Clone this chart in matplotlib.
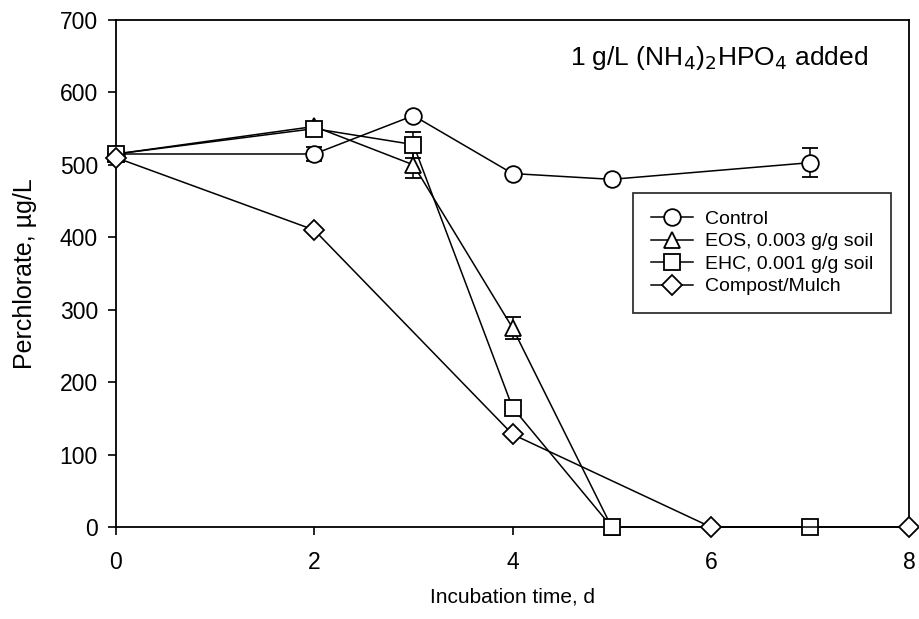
import numpy as np
import matplotlib
matplotlib.use("Agg")
import matplotlib.pyplot as plt
from matplotlib.lines import Line2D

plt.rcParams['font.family'] = ['Liberation Sans', 'DejaVu Sans']

# data
ctrl_t = [0, 2, 3, 4, 5, 7]
ctrl_y = [515, 515, 568, 488, 480, 503]
ctrl_e = [0, 10, 0, 0, 0, 20]

eos_t = [0, 2, 3, 4, 5]
eos_y = [515, 553, 500, 275, 0]
eos_e = [0, 5, 18, 15, 0]

ehc_t = [0, 2, 3, 4, 5, 7]
ehc_y = [515, 550, 528, 165, 0, 0]
ehc_e = [0, 5, 18, 0, 0, 0]

comp_t = [0, 2, 4, 6, 8]
comp_y = [510, 410, 128, 0, 0]

names = ['Control', 'EOS, 0.003 g/g soil', 'EHC, 0.001 g/g soil', 'Compost/Mulch']
marks = ['o', '^', 's', 'D']
sizes = [12, 12, 11.5, 10]

fig = plt.figure(figsize=(9.19, 6.19), dpi=100)
ax = fig.add_axes([0.1262, 0.1486, 0.8630, 0.8191])

kw = dict(color='black', mfc='white', mec='black', lw=1.1, mew=1.3,
          capsize=6, elinewidth=1.1, capthick=1.3, clip_on=False)
ax.errorbar(ctrl_t, ctrl_y, yerr=ctrl_e, marker=marks[0], ms=sizes[0], zorder=3, **kw)
ax.errorbar(eos_t, eos_y, yerr=eos_e, marker=marks[1], ms=sizes[1], zorder=4, **kw)
ax.errorbar(ehc_t, ehc_y, yerr=ehc_e, marker=marks[2], ms=sizes[2], zorder=5, **kw)
ax.plot(comp_t, comp_y, marker=marks[3], ms=sizes[3], color='black', mfc='white',
        mec='black', lw=1.1, mew=1.3, zorder=6, clip_on=False)

ax.set_xlim(0, 8)
ax.set_ylim(0, 700)
ax.set_xticks([0, 2, 4, 6, 8])
ax.set_yticks(np.arange(0, 701, 100))
ax.tick_params(direction='out', length=6, width=1.2, labelsize=16.5, pad=7)
ax.tick_params(axis='x', pad=11)
for s in ax.spines.values():
    s.set_linewidth(1.3)

ax.set_xlabel('Incubation time, d', fontsize=15, labelpad=10)
ax.set_ylabel('Perchlorate, µg/L', fontsize=18, labelpad=16)

ax.text(0.948, 0.925, r'1 g/L (NH$_4$)$_2$HPO$_4$ added', transform=ax.transAxes,
        ha='right', va='center', fontsize=19)

handles = [Line2D([], [], color='black', marker=m, ms=s, mfc='white', mec='black',
                  lw=1.1, mew=1.3)
           for m, s in zip(marks, sizes)]
leg = ax.legend(handles, names, loc='upper left', bbox_to_anchor=(0.652, 0.659),
                fontsize=14, frameon=True, fancybox=False, edgecolor='black',
                handlelength=2.2, handletextpad=0.6, borderpad=0.9, labelspacing=0.25,
                borderaxespad=0)
leg.get_frame().set_linewidth(1.3)

fig.savefig('out.png', dpi=100)
